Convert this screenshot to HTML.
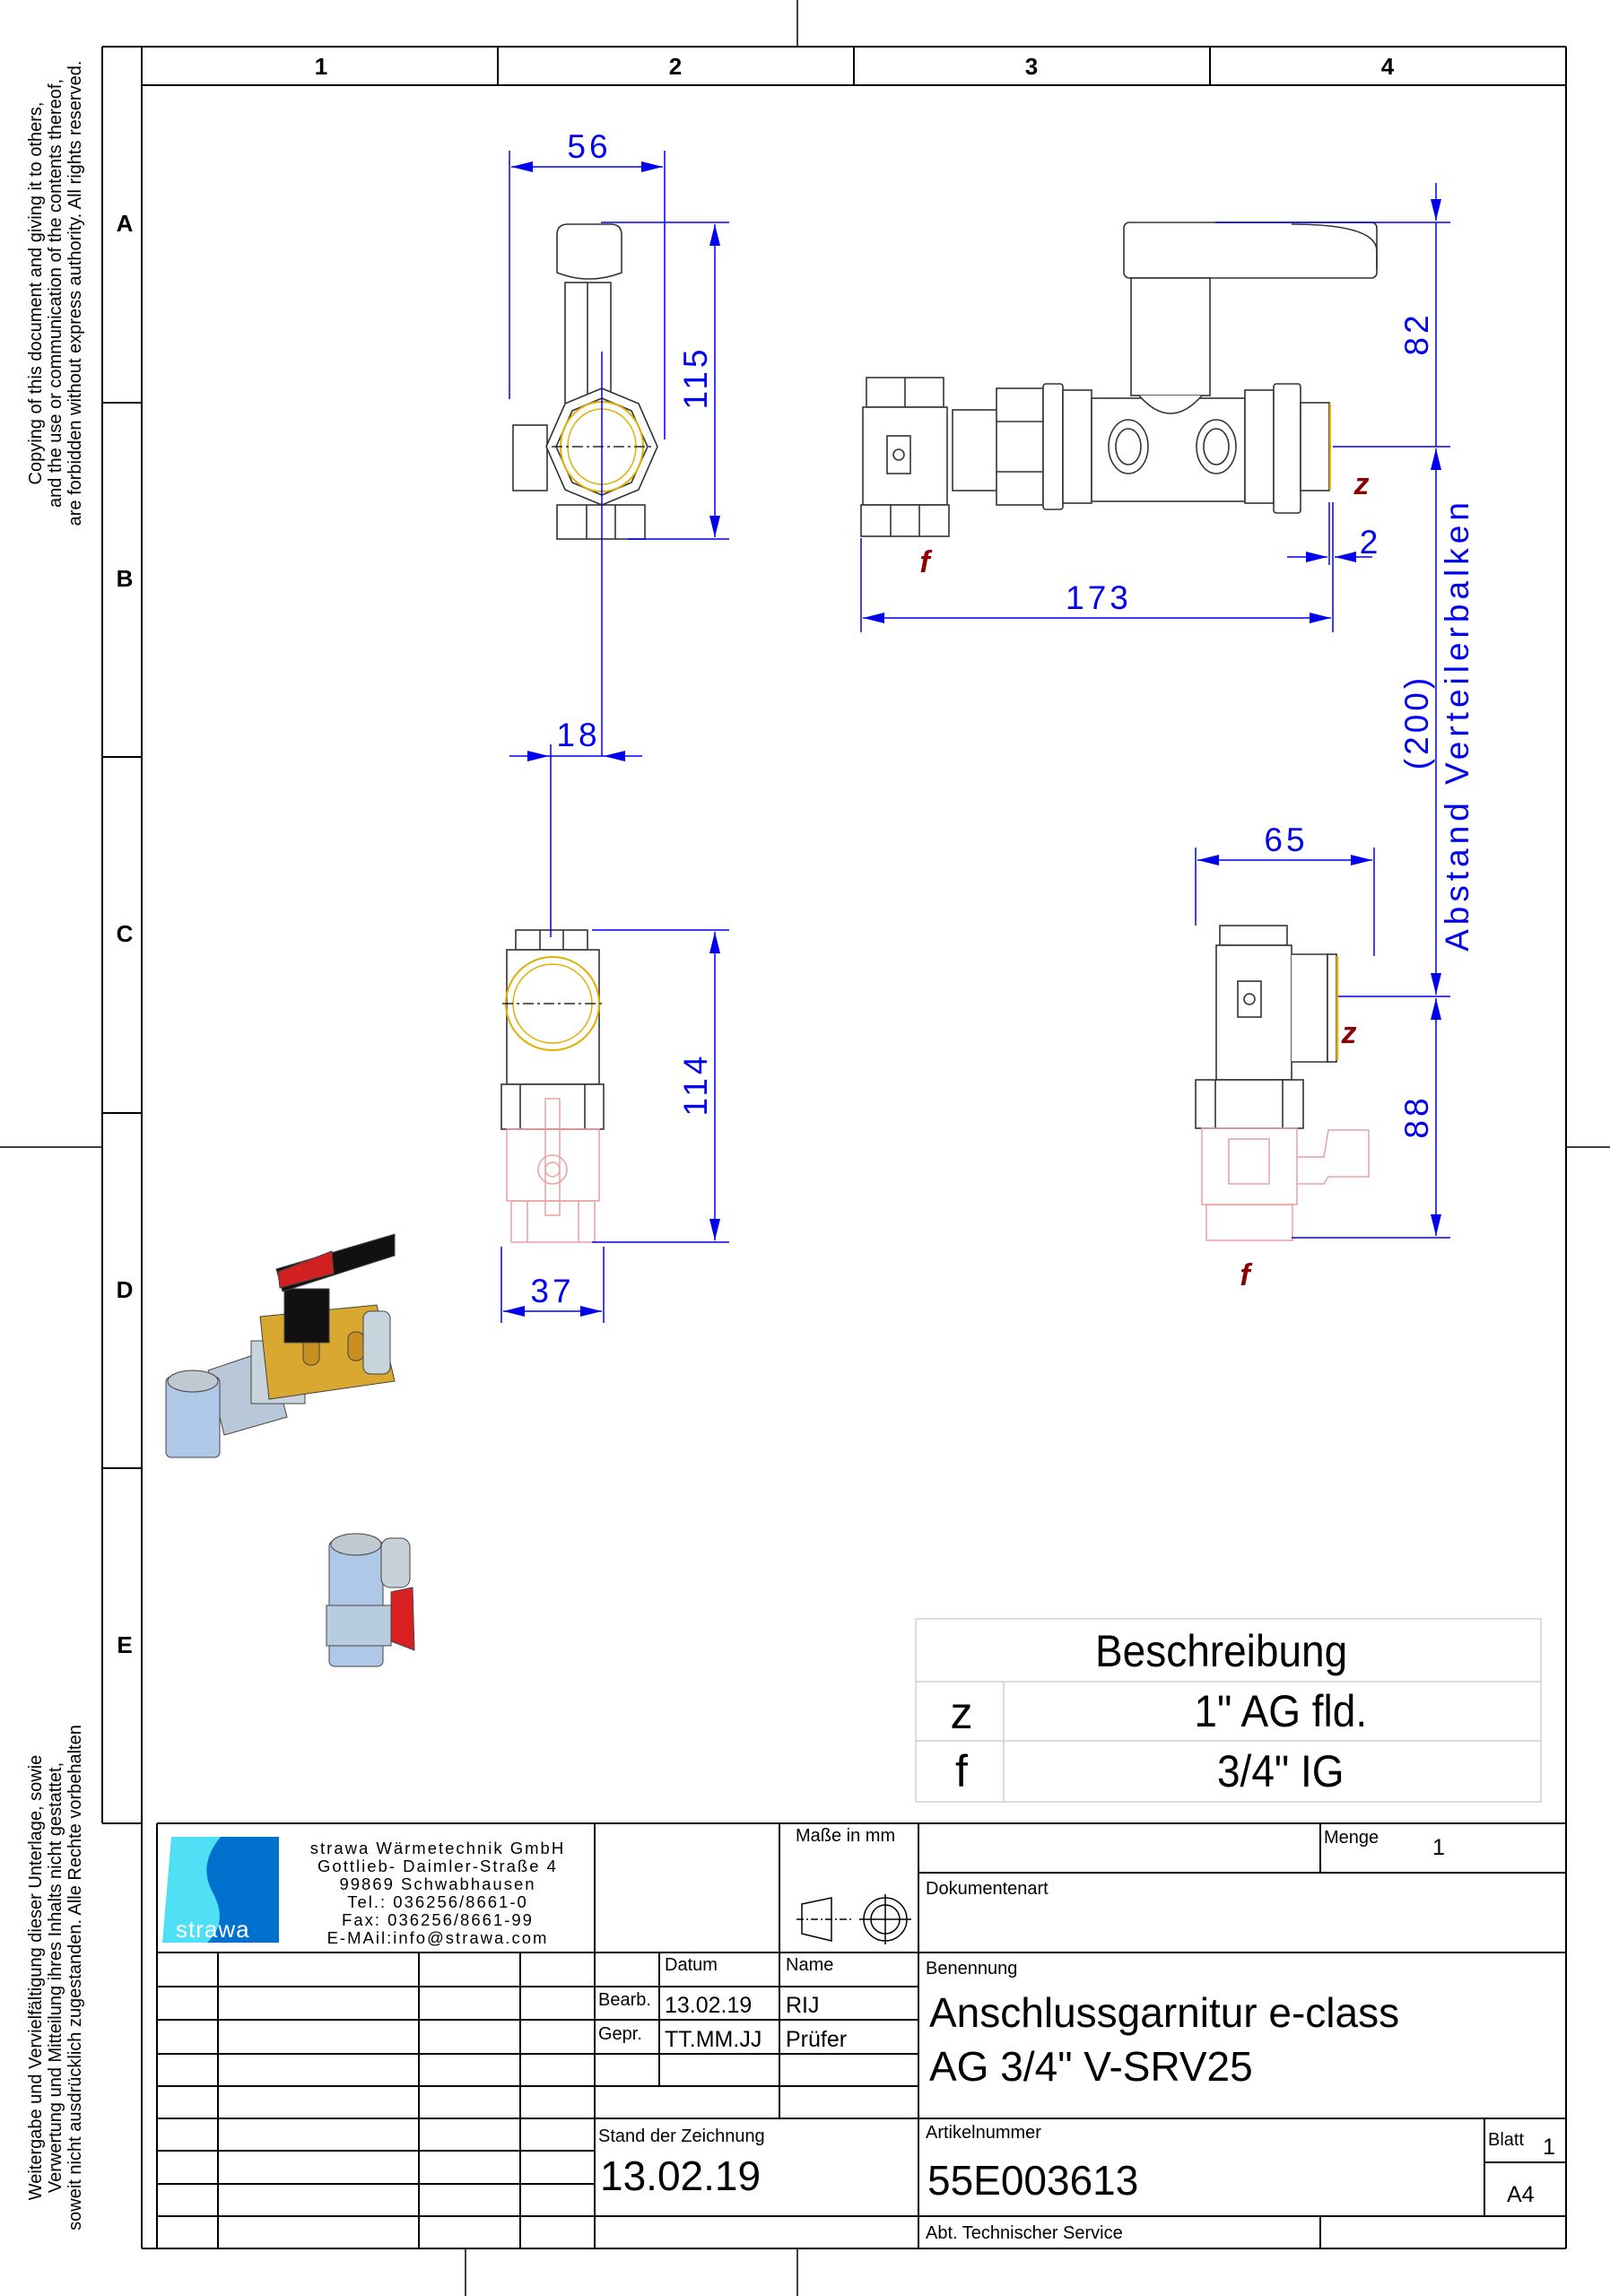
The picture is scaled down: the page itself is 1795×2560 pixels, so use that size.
<!DOCTYPE html>
<html><head><meta charset="utf-8"><style>
html,body{margin:0;padding:0;background:#fff}
svg{display:block}
text{font-family:"Liberation Sans",sans-serif}
</style></head><body>
<svg width="1795" height="2560" viewBox="0 0 1795 2560" xmlns="http://www.w3.org/2000/svg">
<defs>
<marker id="ar" viewBox="0 0 10 10" refX="10" refY="5" markerWidth="24" markerHeight="12" markerUnits="userSpaceOnUse" orient="auto-start-reverse" preserveAspectRatio="none"><path d="M0,0 L10,5 L0,10 z" fill="#0000ee"/></marker>
</defs>
<rect width="1795" height="2560" fill="#fff"/>
<g stroke="#000" stroke-width="2" fill="none">
<line x1="114" y1="52" x2="1746" y2="52"/>
<line x1="114" y1="52" x2="114" y2="2033"/>
<line x1="158" y1="52" x2="158" y2="2507"/>
<line x1="1746" y1="52" x2="1746" y2="2507"/>
<line x1="158" y1="2507" x2="1746" y2="2507"/>
<line x1="158" y1="95" x2="1746" y2="95"/>
<line x1="555" y1="52" x2="555" y2="95"/>
<line x1="952" y1="52" x2="952" y2="95"/>
<line x1="1349" y1="52" x2="1349" y2="95"/>
<line x1="114" y1="449" x2="158" y2="449"/>
<line x1="114" y1="844" x2="158" y2="844"/>
<line x1="114" y1="1241" x2="158" y2="1241"/>
<line x1="114" y1="1637" x2="158" y2="1637"/>
<line x1="114" y1="2033" x2="158" y2="2033"/>
<line x1="889" y1="0" x2="889" y2="52" stroke-width="1.5"/>
<line x1="519" y1="2507" x2="519" y2="2560" stroke-width="1.5"/>
<line x1="889" y1="2507" x2="889" y2="2560" stroke-width="1.5"/>
<line x1="0" y1="1279" x2="114" y2="1279" stroke-width="1.5"/>
<line x1="1746" y1="1279" x2="1795" y2="1279" stroke-width="1.5"/>
</g>
<g font-size="26" font-weight="bold" text-anchor="middle">
<text x="358" y="83">1</text><text x="753" y="83">2</text><text x="1150" y="83">3</text><text x="1547" y="83">4</text>
<text x="139" y="258">A</text><text x="139" y="654">B</text><text x="139" y="1050">C</text><text x="139" y="1447">D</text><text x="139" y="1843">E</text>
</g>
<g font-size="20" text-anchor="middle">
<text transform="translate(46,327) rotate(-90)">Copying of this document and giving it to others,</text>
<text transform="translate(68,327) rotate(-90)">and the use or communication of the contents thereof,</text>
<text transform="translate(90,327) rotate(-90)">are forbidden without express authority. All rights reserved.</text>
<text transform="translate(46,2205) rotate(-90)">Weitergabe und Vervielfältigung dieser Unterlage, sowie</text>
<text transform="translate(68,2205) rotate(-90)">Verwertung und Mitteilung ihres Inhalts nicht gestattet,</text>
<text transform="translate(90,2205) rotate(-90)">soweit nicht ausdrücklich zugestanden. Alle Rechte vorbehalten</text>
</g>

<g stroke="#333" stroke-width="1.6" fill="#fff">
<path d="M621,262 q0,-12 12,-12 h48 q12,0 12,12 v42 q-36,14 -72,0z"/>
<rect x="630" y="315" width="51" height="150"/>
<line x1="655" y1="315" x2="655" y2="460"/>
<rect x="572" y="474" width="38" height="73"/>
<polygon points="671,433 712,450 733,498 712,546 671,563 630,546 609,498 630,450"/>
<polygon points="671,444 704,458 722,498 704,538 671,552 638,538 620,498 638,458"/>
<rect x="621" y="563" width="98" height="38"/>
<line x1="654" y1="563" x2="654" y2="601"/><line x1="686" y1="563" x2="686" y2="601"/>
</g>
<ellipse cx="671" cy="498" rx="46" ry="50" fill="none" stroke="#e0b000" stroke-width="2"/>
<ellipse cx="671" cy="498" rx="38" ry="42" fill="none" stroke="#e0b000" stroke-width="1.5"/>
<line x1="615" y1="498" x2="728" y2="498" stroke="#000" stroke-width="1.2" stroke-dasharray="12,4,3,4"/>

<g stroke="#333" stroke-width="1.6" fill="#fff">
<rect x="1253" y="248" width="282" height="62" rx="6"/>
<path d="M1440,250 q95,0 95,30 v20" fill="none"/>
<rect x="1261" y="310" width="88" height="131"/>
<rect x="1062" y="457" width="52" height="90"/>
<rect x="966" y="421" width="86" height="33"/>
<line x1="1009" y1="421" x2="1009" y2="454"/>
<rect x="962" y="454" width="94" height="109"/>
<rect x="989" y="486" width="26" height="42"/>
<circle cx="1002" cy="507" r="6"/>
<rect x="960" y="563" width="98" height="35"/>
<line x1="993" y1="563" x2="993" y2="598"/><line x1="1025" y1="563" x2="1025" y2="598"/>
<rect x="1111" y="433" width="52" height="130"/>
<line x1="1111" y1="470" x2="1163" y2="470"/><line x1="1111" y1="526" x2="1163" y2="526"/>
<rect x="1163" y="428" width="22" height="140" rx="3"/>
<rect x="1185" y="435" width="32" height="126"/>
<rect x="1217" y="444" width="171" height="115"/>
<path d="M1270,441 q35,40 70,0" fill="#fff"/>
<ellipse cx="1258" cy="498" rx="22" ry="30"/><ellipse cx="1258" cy="498" rx="14" ry="20"/>
<ellipse cx="1356" cy="498" rx="22" ry="30"/><ellipse cx="1356" cy="498" rx="14" ry="20"/>
<rect x="1388" y="435" width="32" height="126"/>
<rect x="1420" y="428" width="30" height="144" rx="3"/>
<rect x="1450" y="449" width="32" height="98"/>
</g>
<line x1="1483" y1="450" x2="1483" y2="546" stroke="#e0b000" stroke-width="2"/>

<g stroke="#333" stroke-width="1.6" fill="#fff">
<rect x="575" y="1037" width="80" height="22"/>
<line x1="602" y1="1037" x2="602" y2="1059"/><line x1="628" y1="1037" x2="628" y2="1059"/>
<rect x="565" y="1059" width="103" height="150"/>
<rect x="559" y="1209" width="114" height="50"/>
<line x1="580" y1="1209" x2="580" y2="1259"/><line x1="652" y1="1209" x2="652" y2="1259"/>
</g>
<circle cx="616" cy="1119" r="52" fill="none" stroke="#e0b000" stroke-width="2"/>
<circle cx="616" cy="1119" r="44" fill="none" stroke="#e0b000" stroke-width="1.5"/>
<line x1="560" y1="1119" x2="672" y2="1119" stroke="#000" stroke-width="1.2" stroke-dasharray="12,4,3,4"/>
<g stroke="#e8a0a0" stroke-width="1.5" fill="none">
<rect x="565" y="1259" width="103" height="80"/>
<rect x="570" y="1339" width="93" height="46"/>
<line x1="588" y1="1339" x2="588" y2="1385"/><line x1="645" y1="1339" x2="645" y2="1385"/>
<rect x="608" y="1225" width="16" height="130"/>
<circle cx="616" cy="1304" r="16"/><circle cx="616" cy="1304" r="8"/>
</g>

<g stroke="#333" stroke-width="1.6" fill="#fff">
<rect x="1360" y="1032" width="75" height="22"/>
<rect x="1356" y="1054" width="84" height="150"/>
<rect x="1380" y="1094" width="26" height="40"/>
<circle cx="1393" cy="1114" r="6"/>
<path d="M1440,1064 h40 v120 h-40"/>
<rect x="1480" y="1064" width="10" height="120"/>
<rect x="1333" y="1204" width="120" height="54"/>
<line x1="1355" y1="1204" x2="1355" y2="1258"/><line x1="1430" y1="1204" x2="1430" y2="1258"/>
</g>
<line x1="1491" y1="1066" x2="1491" y2="1182" stroke="#e0b000" stroke-width="2.5"/>
<g stroke="#e8a0a0" stroke-width="1.5" fill="none">
<rect x="1340" y="1258" width="106" height="85"/>
<rect x="1370" y="1270" width="45" height="50"/>
<rect x="1345" y="1343" width="96" height="40"/>
<path d="M1446,1290 h30 l5,-30 h45 v52 h-45 l-5,8 h-30"/>
</g>

<g stroke="#0000ee" stroke-width="1.5" fill="none">
<line x1="568" y1="168" x2="568" y2="445"/>
<line x1="741" y1="168" x2="741" y2="490"/>
<line x1="570" y1="186" x2="739" y2="186" marker-start="url(#ar)" marker-end="url(#ar)"/>
<line x1="670" y1="248" x2="813" y2="248"/>
<line x1="700" y1="601" x2="813" y2="601"/>
<line x1="797" y1="250" x2="797" y2="599" marker-start="url(#ar)" marker-end="url(#ar)"/>
<line x1="671" y1="392" x2="671" y2="843"/>
<line x1="614" y1="830" x2="614" y2="1045"/>
<line x1="568" y1="843" x2="612" y2="843" marker-end="url(#ar)"/>
<line x1="716" y1="843" x2="673" y2="843" marker-end="url(#ar)"/>
<line x1="612" y1="843" x2="673" y2="843"/>
<line x1="660" y1="1037" x2="813" y2="1037"/>
<line x1="660" y1="1385" x2="813" y2="1385"/>
<line x1="797" y1="1039" x2="797" y2="1383" marker-start="url(#ar)" marker-end="url(#ar)"/>
<line x1="559" y1="1390" x2="559" y2="1475"/>
<line x1="673" y1="1390" x2="673" y2="1475"/>
<line x1="561" y1="1462" x2="671" y2="1462" marker-start="url(#ar)" marker-end="url(#ar)"/>
<line x1="1355" y1="248" x2="1617" y2="248"/>
<line x1="1486" y1="498" x2="1617" y2="498"/>
<line x1="1601" y1="204" x2="1601" y2="246" marker-end="url(#ar)"/>
<line x1="1601" y1="248" x2="1601" y2="498"/>
<line x1="1601" y1="500" x2="1601" y2="1109" marker-start="url(#ar)" marker-end="url(#ar)"/>
<line x1="1492" y1="1111" x2="1617" y2="1111"/>
<line x1="1440" y1="1380" x2="1617" y2="1380"/>
<line x1="1601" y1="1113" x2="1601" y2="1378" marker-start="url(#ar)" marker-end="url(#ar)"/>
<line x1="960" y1="600" x2="960" y2="705"/>
<line x1="1486" y1="560" x2="1486" y2="705"/>
<line x1="1482" y1="560" x2="1482" y2="630"/>
<line x1="962" y1="689" x2="1484" y2="689" marker-start="url(#ar)" marker-end="url(#ar)"/>
<line x1="1435" y1="621" x2="1480" y2="621" marker-end="url(#ar)"/>
<line x1="1530" y1="621" x2="1488" y2="621" marker-end="url(#ar)"/>
<line x1="1333" y1="945" x2="1333" y2="1032"/>
<line x1="1532" y1="945" x2="1532" y2="1066"/>
<line x1="1335" y1="959" x2="1530" y2="959" marker-start="url(#ar)" marker-end="url(#ar)"/>
</g>
<g fill="#0000ee" font-size="37" text-anchor="middle" letter-spacing="4">
<text x="657" y="176">56</text>
<text transform="translate(788,421) rotate(-90)">115</text>
<text x="645" y="832">18</text>
<text transform="translate(788,1209) rotate(-90)">114</text>
<text x="616" y="1452">37</text>
<text x="1225" y="679">173</text>
<text x="1528" y="617">2</text>
<text transform="translate(1592,372) rotate(-90)">82</text>
<text x="1434" y="949">65</text>
<text transform="translate(1592,1245) rotate(-90)">88</text>
<text transform="translate(1592,805) rotate(-90)">(200)</text>
<text transform="translate(1637,808) rotate(-90)" letter-spacing="5">Abstand Verteilerbalken</text>
</g>
<g fill="#8b0000" font-size="34" font-weight="bold" font-style="italic" text-anchor="middle">
<text x="1518" y="551">z</text>
<text x="1031" y="638">f</text>
<text x="1504" y="1163">z</text>
<text x="1388" y="1433">f</text>
</g>

<g stroke="#444" stroke-width="1">
<polygon points="232,1528 300,1505 320,1580 250,1600" fill="#b8c8d8"/>
<rect x="280" y="1495" width="60" height="70" fill="#c8d4dc"/>
<polygon points="290,1468 420,1455 440,1540 300,1560" fill="#d8a830"/>
<rect x="338" y="1490" width="18" height="32" rx="8" fill="#c89020"/>
<rect x="388" y="1485" width="18" height="32" rx="8" fill="#c89020"/>
<rect x="405" y="1462" width="30" height="70" rx="8" fill="#c8d4dc"/>
<rect x="317" y="1437" width="50" height="60" fill="#111"/>
<polygon points="308,1415 440,1376 440,1400 315,1440" fill="#111"/>
<polygon points="310,1418 370,1395 372,1420 312,1436" fill="#d02020"/>
<rect x="185" y="1535" width="60" height="90" rx="6" fill="#b0c8e8"/>
<ellipse cx="215" cy="1540" rx="28" ry="12" fill="#c0c8d0"/>
<rect x="367" y="1718" width="60" height="140" rx="6" fill="#b0c8e8"/>
<ellipse cx="397" cy="1722" rx="28" ry="12" fill="#c0c8d0"/>
<rect x="425" y="1715" width="32" height="55" rx="10" fill="#c8d0d8"/>
<rect x="364" y="1790" width="72" height="45" fill="#b8cce0"/>
<polygon points="436,1775 460,1770 462,1840 436,1830" fill="#d82020"/>
</g>

<g stroke="#d0d0d0" stroke-width="1.5" fill="none">
<rect x="1021" y="1805" width="697" height="204"/>
<line x1="1021" y1="1875" x2="1718" y2="1875"/>
<line x1="1021" y1="1941" x2="1718" y2="1941"/>
<line x1="1119" y1="1875" x2="1119" y2="2009"/>
</g>
<g font-size="50" text-anchor="middle" transform="scale(0.92,1)">
<text x="1480" y="1858">Beschreibung</text>
</g>
<g font-size="50" text-anchor="middle">
<text x="1072" y="1927">z</text>
<text x="1072" y="1992">f</text>
<text x="1428" y="1925" transform="translate(114,0) scale(0.92,1)">1" AG fld.</text>
<text x="1428" y="1992" transform="translate(114,0) scale(0.92,1)">3/4" IG</text>
</g>

<g stroke="#000" stroke-width="2" fill="none">
<line x1="175" y1="2033" x2="1746" y2="2033"/>
<line x1="175" y1="2033" x2="175" y2="2507"/>
<line x1="175" y1="2177" x2="1024" y2="2177"/>
<line x1="175" y1="2215" x2="1024" y2="2215"/>
<line x1="175" y1="2252" x2="1024" y2="2252"/>
<line x1="175" y1="2290" x2="1024" y2="2290"/>
<line x1="175" y1="2326" x2="1024" y2="2326"/>
<line x1="175" y1="2362" x2="1024" y2="2362"/>
<line x1="175" y1="2398" x2="663" y2="2398"/>
<line x1="175" y1="2435" x2="663" y2="2435"/>
<line x1="175" y1="2471" x2="1024" y2="2471"/>
<line x1="243" y1="2177" x2="243" y2="2507"/>
<line x1="467" y1="2177" x2="467" y2="2507"/>
<line x1="580" y1="2177" x2="580" y2="2507"/>
<line x1="663" y1="2033" x2="663" y2="2507"/>
<line x1="735" y1="2177" x2="735" y2="2326"/>
<line x1="869" y1="2033" x2="869" y2="2362"/>
<line x1="1024" y1="2033" x2="1024" y2="2507"/>
<line x1="1024" y1="2088" x2="1746" y2="2088"/>
<line x1="1024" y1="2177" x2="1746" y2="2177"/>
<line x1="1024" y1="2362" x2="1746" y2="2362"/>
<line x1="1024" y1="2471" x2="1746" y2="2471"/>
<line x1="1472" y1="2033" x2="1472" y2="2088"/>
<line x1="1472" y1="2471" x2="1472" y2="2507"/>
<line x1="1655" y1="2362" x2="1655" y2="2471"/>
<line x1="1655" y1="2411" x2="1746" y2="2411"/>
</g>
<rect x="191" y="2048" width="120" height="118" fill="#0072ce"/>
<path d="M191,2048 h55 q-25,30 -10,60 q20,35 -5,58 h-50z" fill="#4fe0f5"/>
<text x="196" y="2160" font-size="26" fill="#fff" letter-spacing="1">strawa</text>
<g font-size="18.5" text-anchor="middle" letter-spacing="2">
<text x="488" y="2067">strawa Wärmetechnik GmbH</text>
<text x="488" y="2087">Gottlieb- Daimler-Straße 4</text>
<text x="488" y="2107">99869 Schwabhausen</text>
<text x="488" y="2127">Tel.: 036256/8661-0</text>
<text x="488" y="2147">Fax: 036256/8661-99</text>
<text x="488" y="2167">E-MAil:info@strawa.com</text>
</g>
<g stroke="#000" stroke-width="1.5" fill="none">
<polygon points="894,2123 927,2116 927,2164 894,2156"/>
<line x1="888" y1="2140" x2="950" y2="2140" stroke-dasharray="8,3,2,3"/>
<circle cx="987" cy="2140" r="24"/><circle cx="987" cy="2140" r="16"/>
<line x1="958" y1="2140" x2="1016" y2="2140"/><line x1="987" y1="2112" x2="987" y2="2168"/>
</g>
<g font-size="20">
<text x="887" y="2053">Maße in mm</text>
<text x="741" y="2197">Datum</text>
<text x="876" y="2197">Name</text>
<text x="667" y="2236">Bearb.</text>
<text x="667" y="2274">Gepr.</text>
<text x="667" y="2388">Stand der Zeichnung</text>
<text x="1476" y="2055">Menge</text>
<text x="1032" y="2112">Dokumentenart</text>
<text x="1032" y="2201">Benennung</text>
<text x="1032" y="2384">Artikelnummer</text>
<text x="1659" y="2392">Blatt</text>
<text x="1032" y="2496">Abt. Technischer Service</text>
</g>
<g font-size="25">
<text x="741" y="2244">13.02.19</text>
<text x="741" y="2282">TT.MM.JJ</text>
<text x="876" y="2244">RIJ</text>
<text x="876" y="2282">Prüfer</text>
<text x="1597" y="2068">1</text>
<text x="1720" y="2402">1</text>
<text x="1680" y="2455">A4</text>
</g>
<g font-size="46">
<text x="669" y="2442">13.02.19</text>
<text x="1034" y="2447">55E003613</text>
<text x="1036" y="2260">Anschlussgarnitur e-class</text>
<text x="1036" y="2320">AG 3/4" V-SRV25</text>
</g>
</svg>
</body></html>
